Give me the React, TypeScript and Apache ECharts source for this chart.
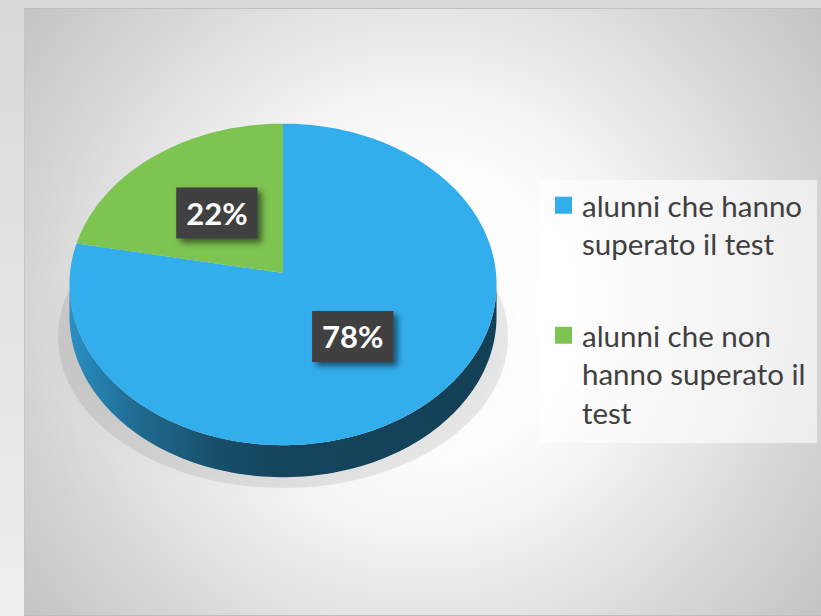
import React, { useEffect, useRef } from "react";
import * as echarts from "echarts";

const categories = [
  "alunni che hanno superato il test",
  "alunni che non hanno superato il test",
];
const legendLines = [
  ["alunni che hanno", "superato il test"],
  ["alunni che non", "hanno superato il", "test"],
];
const values = [78, 22];
const colors = ["#33AEEC", "#7EC451"];

// projection geometry (chart pixels)
const CX = 258;
const APEX_Y = 264;
const BY = -141.2;
const PC = 0.0712;
const RK = 213;
const DEPTH = 32;
const LABEL_F = 0.5;
const FONT = "Lato, 'Open Sans', sans-serif";

const total = values.reduce((a, b) => a + b, 0);
const SIL = Math.acos(-PC);
const TAU = Math.PI * 2;

function proj(t: number, f: number, dy: number): number[] {
  const s = Math.sin(t);
  const c = Math.cos(t);
  const d = 1 + PC * f * c;
  return [CX + (RK * f * s) / d, (APEX_Y + BY * f * c) / d + dy];
}

function arc(a0: number, a1: number, dy: number): number[][] {
  const n = Math.max(2, Math.ceil((a1 - a0) / (Math.PI / 120)));
  const pts: number[][] = [];
  for (let i = 0; i <= n; i++) pts.push(proj(a0 + ((a1 - a0) * i) / n, 1, dy));
  return pts;
}

function darken(hex: string, k: number): string {
  const n = parseInt(hex.slice(1), 16);
  const r = Math.round(((n >> 16) & 255) * k);
  const g = Math.round(((n >> 8) & 255) * k);
  const b = Math.round((n & 255) * k);
  return `rgb(${r},${g},${b})`;
}

function makeRender(i: number) {
  return (_params: any, api: any) => {
    const v = api.value(0) as number;
    let before = 0;
    for (let j = 0; j < i; j++) before += values[j];
    const a0 = (before / total) * TAU;
    const a1 = ((before + v) / total) * TAU;
    const children: any[] = [];
    const s0 = Math.max(a0, SIL);
    const s1 = Math.min(a1, TAU - SIL);
    if (s1 > s0) {
      const top = arc(s0, s1, 0);
      const bot = arc(s0, s1, DEPTH).reverse();
      children.push({
        type: "polygon",
        shape: { points: top.concat(bot) },
        style: {
          fill: new echarts.graphic.LinearGradient(
            CX - RK,
            0,
            CX + RK,
            0,
            [
              { offset: 0, color: darken(colors[i], 0.82) },
              { offset: 0.15, color: darken(colors[i], 0.62) },
              { offset: 0.35, color: darken(colors[i], 0.45) },
              { offset: 0.5, color: darken(colors[i], 0.39) },
              { offset: 1, color: darken(colors[i], 0.37) },
            ],
            true
          ),
        },
      });
    }
    children.push({
      type: "polygon",
      shape: { points: [proj(0, 0, 0)].concat(arc(a0, a1, 0)) },
      style: { fill: colors[i] },
    });
    const m = (a0 + a1) / 2;
    const p = proj(m, LABEL_F, 0);
    children.push({
      type: "text",
      x: p[0],
      y: p[1],
      z2: 10,
      style: {
        text: `${v}%`,
        fill: "#ffffff",
        fontSize: 31,
        fontWeight: "bold",
        fontFamily: FONT,
        align: "center",
        verticalAlign: "middle",
        backgroundColor: "#3f3f3f",
        padding: [10, 10, 10, 10],
        shadowColor: "rgba(0,0,0,0.55)",
        shadowBlur: 6,
        shadowOffsetX: 4,
        shadowOffsetY: 4,
      },
    });
    return { type: "group", children };
  };
}

export default function App() {
  const ref = useRef<HTMLDivElement>(null);
  useEffect(() => {
    document.body.style.margin = "0";
    const chart = echarts.init(ref.current!, undefined, { renderer: "svg" });
    const rich: any = {
      t: { fontSize: 29.5, lineHeight: 38.5, fontFamily: FONT, color: "#404040" },
      g: { width: 10, height: 17 },
      s: { width: 27, height: 17 },
    };
    colors.forEach((c, i) => {
      rich[`b${i}`] = { width: 17, height: 17, backgroundColor: c };
    });
    chart.setOption({
      animation: false,
      tooltip: { show: false },
      graphic: [
        {
          type: "ellipse",
          z: 0,
          shape: { cx: CX, cy: 328, rx: 225, ry: 151 },
          style: {
            fill: "rgba(0,0,0,0.08)",
            shadowBlur: 16,
            shadowColor: "rgba(0,0,0,0.28)",
          },
        },
        {
          type: "rect",
          z: 0,
          shape: { x: 515, y: 171, width: 277, height: 263 },
          style: { fill: "rgba(255,255,255,0.6)" },
        },
      ],
      legend: {
        orient: "vertical",
        left: 525,
        top: 177,
        padding: 0,
        itemWidth: 0,
        itemHeight: 0,
        itemGap: 53,
        icon: "rect",
        selectedMode: false,
        data: categories,
        formatter: (name: string) => {
          const i = categories.indexOf(name);
          return legendLines[i]
            .map((l, k) => (k === 0 ? `{b${i}|}{g|}{t|${l}}` : `{s|}{t|${l}}`))
            .join("\n");
        },
        textStyle: { color: "#404040", fontFamily: FONT, fontSize: 29.5, lineHeight: 38.5, rich },
      },
      series: categories.map((name, i) => ({
        type: "custom",
        name,
        coordinateSystem: "none",
        silent: true,
        z: 2,
        itemStyle: { color: colors[i] },
        data: [values[i]],
        renderItem: makeRender(i),
      })),
    });
    return () => chart.dispose();
  }, []);
  return (
    <div
      style={{
        position: "fixed",
        left: 0,
        top: 0,
        width: 821,
        height: 616,
        background: "linear-gradient(#d9d9d9, #efefef)",
        overflow: "hidden",
      }}
    >
      <div
        style={{
          position: "absolute",
          left: 24,
          top: 8,
          width: 797,
          height: 608,
          boxSizing: "border-box",
          borderTop: "1px solid #bfbfbf",
          borderLeft: "1px solid #c6c6c6",
          borderBottom: "1px solid #bdbdbd",
          background:
            "radial-gradient(circle farthest-corner at 50% 50%, #ffffff 0%, #fdfdfd 30%, #f3f3f3 45%, #e6e6e6 60%, #d4d4d4 80%, #c4c4c4 100%)",
        }}
      >
        <div ref={ref} style={{ width: 796, height: 606 }} />
      </div>
    </div>
  );
}
